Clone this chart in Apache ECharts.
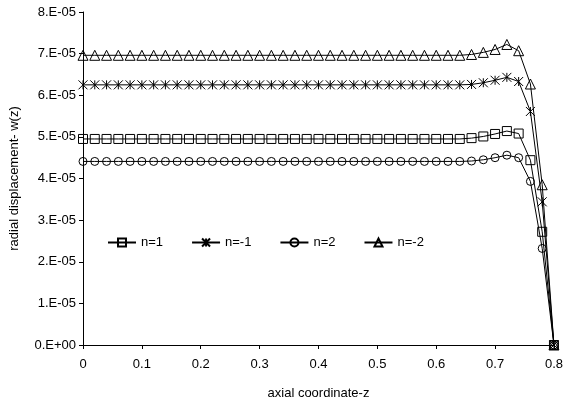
<!DOCTYPE html>
<html>
<head>
<meta charset="utf-8">
<script src="https://cdn.jsdelivr.net/npm/echarts@6/dist/echarts.min.js"></script>
<style>
  html, body { margin: 0; padding: 0; background: #fff; }
  #chart { width: 566px; height: 409px; }
</style>
</head>
<body>
<div id="chart"></div>
<script>
// axial coordinate z
const zValues = [
  0, 0.02, 0.04, 0.06, 0.08, 0.1, 0.12, 0.14, 0.16, 0.18, 0.2,
  0.22, 0.24, 0.26, 0.28, 0.3, 0.32, 0.34, 0.36, 0.38, 0.4, 0.42,
  0.44, 0.46, 0.48, 0.5, 0.52, 0.54, 0.56, 0.58, 0.6, 0.62, 0.64,
  0.66, 0.68, 0.7, 0.72, 0.74, 0.76, 0.78, 0.8
]
// radial displacement w(z)
const wN1 = [
  4.95e-5, 4.95e-5, 4.95e-5, 4.95e-5, 4.95e-5, 4.95e-5, 4.95e-5, 4.95e-5, 4.95e-5, 4.95e-5, 4.95e-5,
  4.95e-5, 4.95e-5, 4.95e-5, 4.95e-5, 4.95e-5, 4.95e-5, 4.95e-5, 4.95e-5, 4.95e-5, 4.95e-5, 4.95e-5,
  4.95e-5, 4.95e-5, 4.95e-5, 4.95e-5, 4.95e-5, 4.95e-5, 4.95e-5, 4.95e-5, 4.95e-5, 4.95e-5, 4.95e-5,
  4.97e-5, 5.01e-5, 5.07e-5, 5.14e-5, 5.08e-5, 4.44e-5, 2.72e-5, 0
]
const wNm1 = [
  6.25e-5, 6.25e-5, 6.25e-5, 6.25e-5, 6.25e-5, 6.25e-5, 6.25e-5, 6.25e-5, 6.25e-5, 6.25e-5, 6.25e-5,
  6.25e-5, 6.25e-5, 6.25e-5, 6.25e-5, 6.25e-5, 6.25e-5, 6.25e-5, 6.25e-5, 6.25e-5, 6.25e-5, 6.25e-5,
  6.25e-5, 6.25e-5, 6.25e-5, 6.25e-5, 6.25e-5, 6.25e-5, 6.25e-5, 6.25e-5, 6.25e-5, 6.25e-5, 6.25e-5,
  6.26e-5, 6.30e-5, 6.36e-5, 6.43e-5, 6.33e-5, 5.61e-5, 3.44e-5, 0
]
const wN2 = [
  4.41e-5, 4.41e-5, 4.41e-5, 4.41e-5, 4.41e-5, 4.41e-5, 4.41e-5, 4.41e-5, 4.41e-5, 4.41e-5, 4.41e-5,
  4.41e-5, 4.41e-5, 4.41e-5, 4.41e-5, 4.41e-5, 4.41e-5, 4.41e-5, 4.41e-5, 4.41e-5, 4.41e-5, 4.41e-5,
  4.41e-5, 4.41e-5, 4.41e-5, 4.41e-5, 4.41e-5, 4.41e-5, 4.41e-5, 4.41e-5, 4.41e-5, 4.41e-5, 4.41e-5,
  4.42e-5, 4.45e-5, 4.50e-5, 4.56e-5, 4.50e-5, 3.93e-5, 2.32e-5, 0
]
const wNm2 = [
  6.96e-5, 6.96e-5, 6.96e-5, 6.96e-5, 6.96e-5, 6.96e-5, 6.96e-5, 6.96e-5, 6.96e-5, 6.96e-5, 6.96e-5,
  6.96e-5, 6.96e-5, 6.96e-5, 6.96e-5, 6.96e-5, 6.96e-5, 6.96e-5, 6.96e-5, 6.96e-5, 6.96e-5, 6.96e-5,
  6.96e-5, 6.96e-5, 6.96e-5, 6.96e-5, 6.96e-5, 6.96e-5, 6.96e-5, 6.96e-5, 6.96e-5, 6.96e-5, 6.96e-5,
  6.98e-5, 7.03e-5, 7.10e-5, 7.22e-5, 7.07e-5, 6.27e-5, 3.85e-5, 0
]
const seriesNames = ['n=1', 'n=-1', 'n=2', 'n=-2']

const fontFamily = '"Liberation Sans", Arial, sans-serif'
const starPath = 'path://M0,0L10,10M10,0L0,10M5,0L5,10'

function makeSeries(name, values, symbol, size) {
  return {
    name: name,
    type: 'line',
    data: zValues.map((z, i) => [z, values[i]]),
    symbol: symbol,
    symbolSize: size,
    showAllSymbol: true,
    lineStyle: { color: '#000', width: 1 },
    itemStyle: { color: 'rgba(0,0,0,0)', borderColor: '#000', borderWidth: 1 },
    emphasis: { disabled: true },
  }
}

const chart = echarts.init(document.getElementById('chart'))
chart.setOption({
  animation: false,
  backgroundColor: '#fff',
  textStyle: { fontFamily: fontFamily, color: '#000' },
  grid: { left: 83, right: 9, top: 12, bottom: 64 },
  legend: {
    left: 102,
    top: 231,
    itemWidth: 28,
    itemHeight: 10,
    itemGap: 28,
    data: seriesNames,
    textStyle: { fontSize: 13, color: '#000', fontFamily: fontFamily },
  },
  xAxis: {
    type: 'value',
    min: 0,
    max: 0.8,
    interval: 0.1,
    name: 'axial coordinate-z',
    nameLocation: 'middle',
    nameGap: 42,
    nameTextStyle: { fontSize: 13, color: '#000' },
    axisLine: { lineStyle: { color: '#000', width: 1 } },
    axisTick: { length: 4, lineStyle: { color: '#000' } },
    axisLabel: {
      margin: 13,
      fontSize: 13,
      color: '#000',
      formatter: v => String(Math.round(v * 10) / 10),
    },
    splitLine: { show: false },
  },
  yAxis: {
    type: 'value',
    min: 0,
    max: 8e-5,
    interval: 1e-5,
    name: 'radial displacement- w(z)',
    nameLocation: 'middle',
    nameGap: 62,
    nameTextStyle: { fontSize: 13, color: '#000' },
    axisLine: { show: true, lineStyle: { color: '#000', width: 1 } },
    axisTick: { show: true, length: 4, lineStyle: { color: '#000' } },
    axisLabel: {
      margin: 7,
      fontSize: 13,
      color: '#000',
      formatter: v => v === 0 ? '0.E+00' : Math.round(v * 1e5) + '.E-05',
    },
    splitLine: { show: false },
  },
  series: [
    makeSeries(seriesNames[0], wN1, 'rect', 9),
    makeSeries(seriesNames[1], wNm1, starPath, 9),
    makeSeries(seriesNames[2], wN2, 'circle', 8),
    makeSeries(seriesNames[3], wNm2, 'triangle', 10),
  ],
})
</script>
</body>
</html>
